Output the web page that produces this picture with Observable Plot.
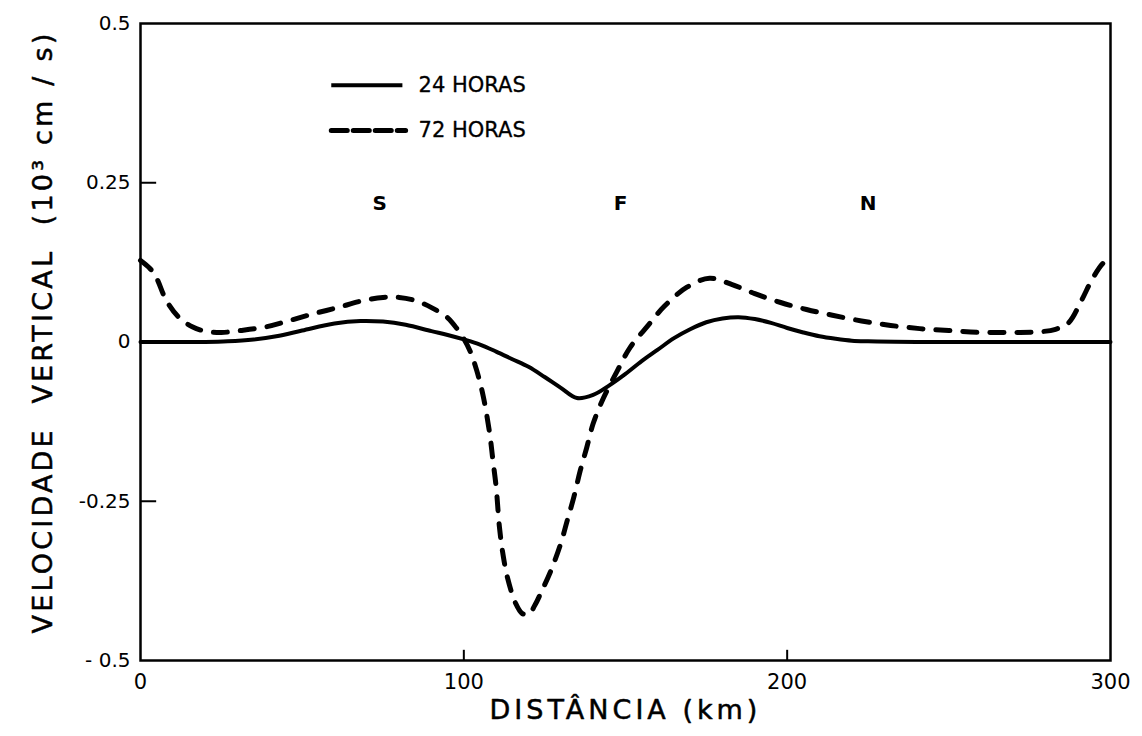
<!DOCTYPE html>
<html>
<head>
<meta charset="utf-8">
<script src="https://cdn.jsdelivr.net/npm/d3@7"></script>
<script src="https://cdn.jsdelivr.net/npm/@observablehq/plot@0.6"></script>
<style>
  html, body { margin: 0; padding: 0; background: #fff; }
  #chart svg { display: block; }
</style>
</head>
<body>
<div id="chart"></div>
<script>
// ---- data ----
const xTicks = [0, 100, 200, 300];
const xTickLabels = ["0", "100", "200", "300"];
const yTicks = [-0.5, -0.25, 0, 0.25, 0.5];
const yTickLabels = ["- 0.5", "-0.25", "0", "0.25", "0.5"];

// 24 HORAS (solid)
const dist24 = [0, 10, 20, 27, 35, 42, 50, 60, 68, 75, 82, 90, 95, 100, 105, 110, 115, 120, 125, 130, 135, 140, 145, 150, 155, 160, 165, 170, 175, 180, 185, 190, 195, 200, 205, 210, 215, 220, 225, 240, 260, 280, 300];
const vel24 = [0, 0, 0, 0.001, 0.004, 0.009, 0.018, 0.029, 0.033, 0.032, 0.027, 0.017, 0.011, 0.004, -0.004, -0.015, -0.027, -0.039, -0.055, -0.072, -0.088, -0.083, -0.068, -0.05, -0.03, -0.012, 0.006, 0.02, 0.031, 0.037, 0.039, 0.036, 0.03, 0.022, 0.015, 0.009, 0.005, 0.002, 0.001, 0, 0, 0, 0];

// 72 HORAS (dashed)
const dist72 = [0, 3, 5, 8, 12, 16, 20, 25, 31, 39, 47, 54, 61, 68, 75, 80, 85, 90, 95, 98, 100, 102, 104, 106, 108, 109, 110, 111, 112, 113.5, 116, 118, 120, 122, 124, 127, 130, 132, 134, 136, 138, 140, 143, 147.5, 151.5, 157, 162, 169, 176, 183, 190, 198, 206, 214, 223, 232, 241, 250, 260, 270, 278, 283, 287, 291, 294.5, 298, 300];
const vel72 = [0.128, 0.115, 0.1, 0.065, 0.038, 0.024, 0.017, 0.015, 0.018, 0.024, 0.035, 0.045, 0.054, 0.064, 0.07, 0.07, 0.065, 0.054, 0.038, 0.02, 0.005, -0.015, -0.045, -0.085, -0.144, -0.186, -0.228, -0.29, -0.33, -0.37, -0.41, -0.426, -0.428, -0.413, -0.392, -0.358, -0.316, -0.28, -0.244, -0.202, -0.166, -0.128, -0.09, -0.045, -0.008, 0.026, 0.056, 0.086, 0.1, 0.09, 0.076, 0.062, 0.051, 0.042, 0.033, 0.026, 0.021, 0.018, 0.015, 0.015, 0.016, 0.02, 0.03, 0.065, 0.1, 0.125, 0.13];

const seriesLabels = ["24 HORAS", "72 HORAS"];
const regionLabels = ["S", "F", "N"];
const regionDist = [74, 148.5, 225];
const regionVel = [0.218, 0.218, 0.218];

const xLabel = "DISTÂNCIA (km)";
const yLabel = "VELOCIDADE  VERTICAL  (10³ cm / s)";

// ---- build tables ----
const line24 = dist24.map((d, i) => ({x: d, y: vel24[i]}));
const line72 = dist72.map((d, i) => ({x: d, y: vel72[i]}));
const regions = regionLabels.map((t, i) => ({t, x: regionDist[i], y: regionVel[i]}));

const FONT = "DejaVu Sans, Liberation Sans, sans-serif";
const INK = {fill: "#000", stroke: "#000", strokeWidth: 0.5};

const chart = Plot.plot({
  width: 1142,
  height: 736,
  marginLeft: 140,
  marginRight: 32,
  marginTop: 23,
  marginBottom: 76,
  style: {fontFamily: FONT, color: "#000", background: "#fff", overflow: "visible"},
  x: {domain: [0, 300]},
  y: {domain: [-0.5, 0.5]},
  marks: [
    // axes: labels only (ticks drawn inward below)
    Plot.axisX(xTicks, {tickSize: 0, tickPadding: 14, fontSize: 21, tickFormat: (d) => xTickLabels[xTicks.indexOf(d)], label: null}),
    Plot.axisY(yTicks, {tickSize: 0, tickPadding: 10, fontSize: 20, tickFormat: (d) => yTickLabels[yTicks.indexOf(d)], label: null}),
    Plot.ruleX(xTicks.slice(1, -1), {y1: -0.5, y2: -0.484, stroke: "#000", strokeWidth: 2}),
    Plot.ruleY(yTicks.slice(1, -1), {x1: 0, x2: 5, stroke: "#000", strokeWidth: 2}),
    // curves
    Plot.line(line24, {x: "x", y: "y", curve: "catmull-rom", stroke: "#000", strokeWidth: 4}),
    Plot.line(line72, {x: "x", y: "y", curve: "catmull-rom", stroke: "#000", strokeWidth: 5, strokeDasharray: "14,13", strokeLinecap: "round"}),
    // frame
    Plot.frame({stroke: "#000", strokeWidth: 2.5}),
    // region labels
    Plot.text(regions, {x: "x", y: "y", text: "t", fontSize: 20, fontWeight: "bold", fill: "#000"}),
    // legend
    Plot.link([seriesLabels[0]], {x1: 59, x2: 81, y1: 0.403, y2: 0.403, stroke: "#000", strokeWidth: 4}),
    Plot.link([seriesLabels[1]], {x1: 59, x2: 82, y1: 0.332, y2: 0.332, stroke: "#000", strokeWidth: 5, strokeDasharray: "16,6", strokeLinecap: "round"}),
    Plot.text([seriesLabels[0]], {x: 86, y: 0.403, text: (d) => d, textAnchor: "start", fontSize: 21, ...INK, strokeWidth: 0.3}),
    Plot.text([seriesLabels[1]], {x: 86, y: 0.332, text: (d) => d, textAnchor: "start", fontSize: 21, ...INK, strokeWidth: 0.3}),
    // axis titles
    Plot.text([xLabel], {frameAnchor: "bottom", textAnchor: "middle", dy: 58, text: (d) => d, fontSize: 27, ...INK}),
    Plot.text([yLabel], {frameAnchor: "left", textAnchor: "middle", dx: -97, dy: -10, rotate: -90, text: (d) => d, fontSize: 27, ...INK})
  ]
});

// widen the lettering of the two axis titles, as in the reference
d3.select(chart).selectAll("text")
  .filter(function () { return this.textContent === xLabel; })
  .style("letter-spacing", "4px");
d3.select(chart).selectAll("text")
  .filter(function () { return this.textContent === yLabel; })
  .style("letter-spacing", "3.2px");

document.getElementById("chart").append(chart);
</script>
</body>
</html>
